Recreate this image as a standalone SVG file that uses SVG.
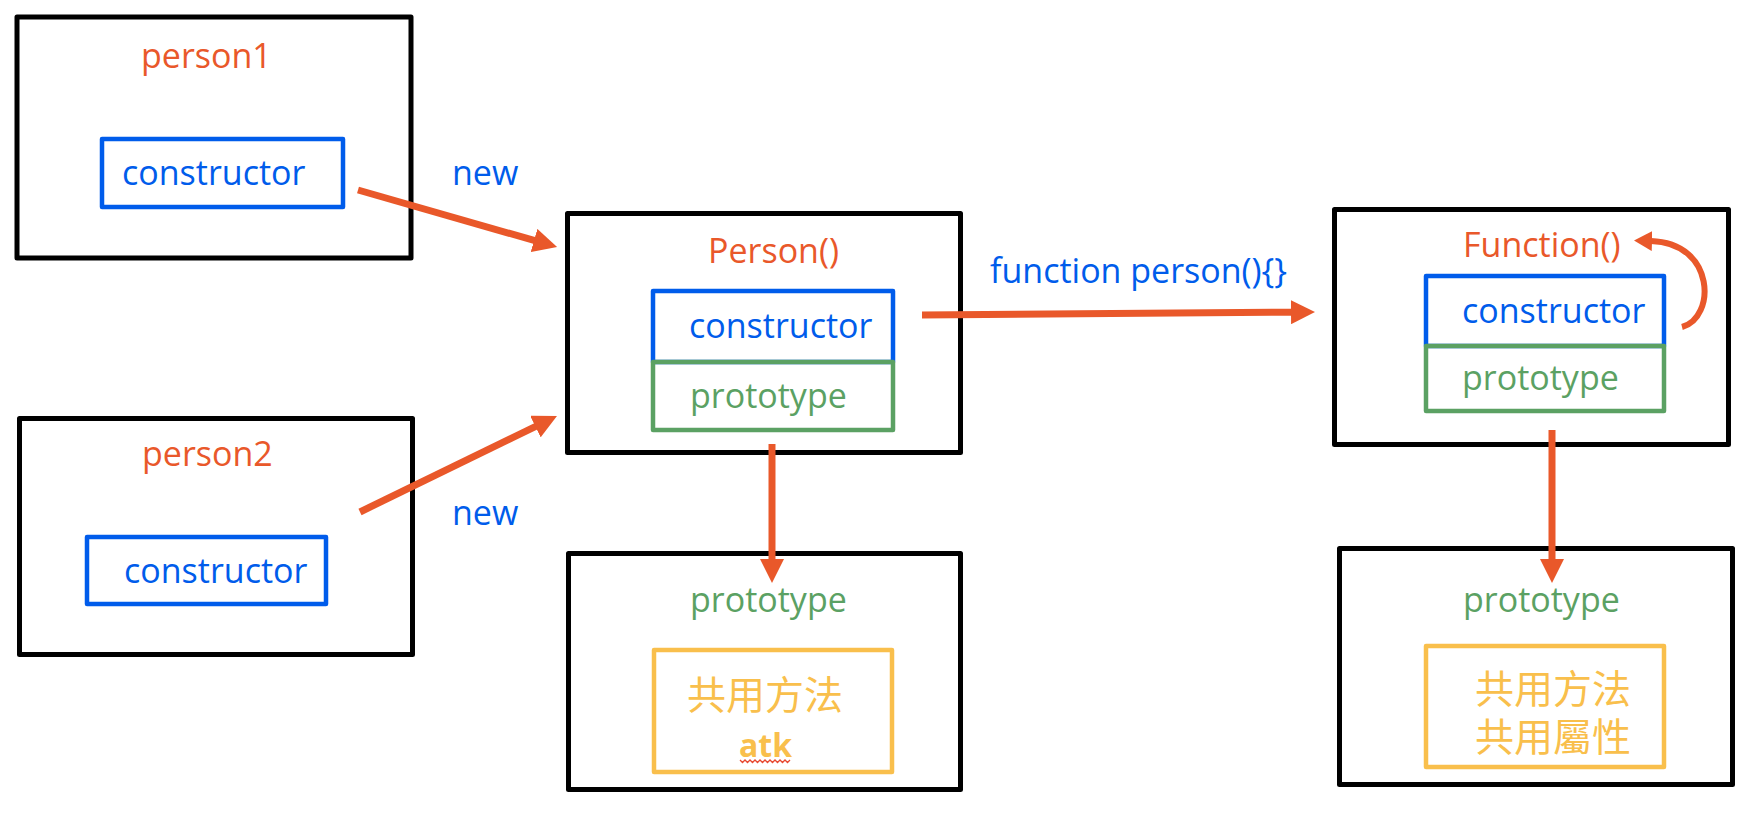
<svg xmlns="http://www.w3.org/2000/svg" width="1758" height="814" viewBox="0 0 1758 814">
<style>
  .box { fill: none; stroke: #000; stroke-width: 5; stroke-linejoin: round; }
  .blue { fill: none; stroke: #005CEB; stroke-width: 4.5; stroke-linejoin: round; }
  .green { fill: none; stroke: #5BA163; stroke-width: 4.5; stroke-linejoin: round; }
  .yellow { fill: none; stroke: #F9BF4C; stroke-width: 4.5; stroke-linejoin: round; }
  text { font-family: "Open Sans", "Liberation Sans", sans-serif; font-size: 34px; }
  .t-or { fill: #E9582A; }
  .t-bl { fill: #005CEB; }
  .t-gr { fill: #5BA163; }
  .t-ye { fill: #F9BF4C; font-family: "Noto Sans CJK TC", "Noto Sans CJK SC", sans-serif; font-size: 39px; }
  .conn { fill: none; stroke: #E9582A; stroke-width: 7; }
</style>
<defs>
  <marker id="ah" markerUnits="userSpaceOnUse" markerWidth="24" markerHeight="24" refX="1" refY="12" orient="auto">
    <path d="M0,0 L24,12 L0,24 z" fill="#E9582A"/>
  </marker>
  <marker id="ahs" markerUnits="userSpaceOnUse" markerWidth="18" markerHeight="20" refX="1" refY="10" orient="auto">
    <path d="M0,0 L18,10 L0,20 z" fill="#E9582A"/>
  </marker>
</defs>

<g id="person1">
  <rect class="box" x="17" y="17" width="394" height="241"/>
  <text class="t-or" x="141" y="68">person1</text>
  <rect class="blue" x="102" y="139" width="241" height="68"/>
  <text class="t-bl" x="122" y="185">constructor</text>
</g>

<g id="person2">
  <rect class="box" x="19.5" y="418.5" width="393" height="236"/>
  <text class="t-or" x="142" y="466">person2</text>
  <rect class="blue" x="87" y="537" width="239" height="67"/>
  <text class="t-bl" x="124" y="583">constructor</text>
</g>

<g id="Person">
  <rect class="box" x="567.5" y="213.5" width="393" height="239"/>
  <text class="t-or" x="708" y="263">Person()</text>
  <rect class="blue" x="653" y="291" width="240" height="71"/>
  <rect class="green" x="653" y="362" width="240" height="68"/>
  <text class="t-bl" x="689" y="338">constructor</text>
  <text class="t-gr" x="690" y="408">prototype</text>
</g>

<g id="Function">
  <rect class="box" x="1334.5" y="209.5" width="394" height="235"/>
  <text class="t-or" x="1463" y="257">Function()</text>
  <rect class="blue" x="1426" y="276" width="238" height="70"/>
  <rect class="green" x="1426" y="346" width="238" height="65"/>
  <text class="t-bl" x="1462" y="323">constructor</text>
  <text class="t-gr" x="1462" y="390">prototype</text>
</g>

<g id="PersonPrototype">
  <rect class="box" x="568.5" y="553.5" width="392" height="236"/>
  <text class="t-gr" x="690" y="612">prototype</text>
  <rect class="yellow" x="654" y="650" width="238" height="122"/>
  <text class="t-ye" x="687" y="709">共用方法</text>
  <text x="739" y="757" style="fill:#F9BF4C;font-weight:bold;font-size:32px">atk</text>
  <path d="M740,760 l2.5,2.5 l2.5,-2.5 l2.5,2.5 l2.5,-2.5 l2.5,2.5 l2.5,-2.5 l2.5,2.5 l2.5,-2.5 l2.5,2.5 l2.5,-2.5 l2.5,2.5 l2.5,-2.5 l2.5,2.5 l2.5,-2.5 l2.5,2.5 l2.5,-2.5 l2.5,2.5 l2.5,-2.5 l2.5,2.5 l2.5,-2.5" fill="none" stroke="#E8472F" stroke-width="1.3"/>
</g>

<g id="FunctionPrototype">
  <rect class="box" x="1339.5" y="548.5" width="393" height="236"/>
  <text class="t-gr" x="1463" y="612">prototype</text>
  <rect class="yellow" x="1426" y="646" width="238" height="121"/>
  <text class="t-ye"><tspan x="1475" y="703">共用方法</tspan><tspan x="1475" y="751">共用屬性</tspan></text>
</g>

<g id="connectors">
  <line class="conn" x1="358" y1="190" x2="535" y2="240.7" marker-end="url(#ah)"/>
  <text class="t-bl" x="452" y="185">new</text>
  <line class="conn" x1="360" y1="512" x2="536.3" y2="426.1" marker-end="url(#ah)"/>
  <text class="t-bl" x="452" y="525">new</text>
  <line class="conn" x1="922" y1="315" x2="1292" y2="312.2" marker-end="url(#ah)"/>
  <text class="t-bl" x="990" y="283">function person(){}</text>
  <line class="conn" x1="772" y1="444" x2="772" y2="560" marker-end="url(#ah)"/>
  <line class="conn" x1="1552" y1="430" x2="1552" y2="560" marker-end="url(#ah)"/>
  <path class="conn" style="stroke-width:6" d="M1682,327 C1716,318 1716,243 1651,241" marker-end="url(#ahs)"/>
</g>
</svg>
